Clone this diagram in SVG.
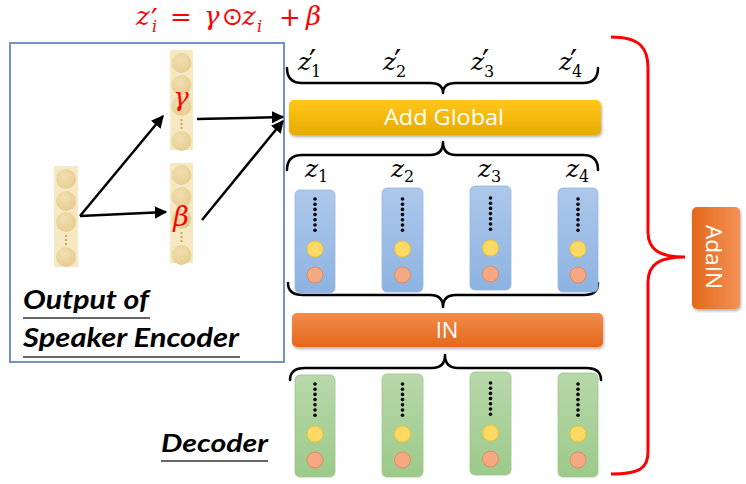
<svg xmlns="http://www.w3.org/2000/svg" width="746" height="484" viewBox="0 0 746 484">
<defs>
<linearGradient id="gY" x1="0" y1="0" x2="0" y2="1"><stop offset="0" stop-color="#ffc71a"/><stop offset="1" stop-color="#e8aa00"/></linearGradient>
<linearGradient id="gO" x1="0" y1="0" x2="0" y2="1"><stop offset="0" stop-color="#f28c4c"/><stop offset="1" stop-color="#e4681a"/></linearGradient>
<linearGradient id="gOh" x1="0" y1="0" x2="1" y2="0"><stop offset="0" stop-color="#e4681a"/><stop offset="1" stop-color="#f29155"/></linearGradient>
<linearGradient id="gB" x1="0" y1="0" x2="0" y2="1"><stop offset="0" stop-color="#adc8ea"/><stop offset="1" stop-color="#8db3e2"/></linearGradient>
<linearGradient id="gG" x1="0" y1="0" x2="0" y2="1"><stop offset="0" stop-color="#b8d8aa"/><stop offset="1" stop-color="#9cca8a"/></linearGradient>
<radialGradient id="gC" cx="0.4" cy="0.35" r="0.7"><stop offset="0" stop-color="#f1dfb2"/><stop offset="1" stop-color="#e6cc8e"/></radialGradient>
<filter id="sh" x="-5%" y="-20%" width="110%" height="150%"><feDropShadow dx="1" dy="2" stdDeviation="1.5" flood-color="#000" flood-opacity="0.3"/></filter>
<marker id="ah" viewBox="0 0 10 10" refX="9" refY="5" markerWidth="5" markerHeight="5" orient="auto"><path d="M0,0 L10,5 L0,10 z" fill="#000"/></marker>
<g id="bluecol">
<circle cx="0" cy="0" r="1.8"/><circle cx="0" cy="5.2" r="1.8"/><circle cx="0" cy="10.4" r="1.8"/><circle cx="0" cy="15.6" r="1.8"/><circle cx="0" cy="20.8" r="1.8"/><circle cx="0" cy="26" r="1.8"/><circle cx="0" cy="31.2" r="1.8"/>
<circle class="yc" cx="0" cy="50" r="8"/>
<circle class="oc" cx="0" cy="76" r="8"/>
</g>
</defs>
<style>
.bc{fill:url(#gB);stroke:#95b6df;stroke-width:0.8}
.gc{fill:url(#gG);stroke:#9cc48c;stroke-width:0.8}
.yc{fill:#ffd966;stroke:#f2c22a;stroke-width:1}
.oc{fill:#f4a882;stroke:#e48b62;stroke-width:1}
.bg{fill:#f7e8c4}
.cc{fill:url(#gC)}
.bd{fill:#c99a2e}
.brace{fill:none;stroke:#000;stroke-width:2.5;stroke-linecap:round;stroke-linejoin:round}
.arr{stroke:#000;stroke-width:2.5;fill:none;marker-end:url(#ah)}
.lbl{font-family:Lato,"Open Sans",sans-serif;font-weight:bold;font-style:italic;fill:#000}
.wt{font-family:"Open Sans","Liberation Sans",sans-serif;fill:#fff}
.m{font-family:"DejaVu Serif","Liberation Serif",serif;font-style:italic}
.mr{font-family:"DejaVu Serif","Liberation Serif",serif;font-style:normal}
.pr{font-family:"DejaVu Sans",sans-serif;font-style:normal}
</style>

<g id="formula" fill="#ff0000">
<text class="m" font-size="26"><tspan x="136" y="25">z</tspan><tspan x="151" y="30" font-size="30" class="pr">′</tspan><tspan x="152" y="32" font-size="16">i</tspan><tspan x="170" y="26" font-size="26" class="mr">=</tspan><tspan x="204" y="25">γ</tspan><tspan x="222" y="25" font-size="25" class="pr">⊙</tspan><tspan x="242" y="25">z</tspan><tspan x="257" y="32" font-size="16">i</tspan><tspan x="279" y="26" font-size="26" class="mr">+</tspan><tspan x="306" y="25">β</tspan></text>
</g>

<g id="speaker-frame">
<rect x="10" y="43" width="274" height="319" fill="none" stroke="#7092c4" stroke-width="2"/>
<text x="23" y="309" font-size="26" class="lbl" textLength="126" lengthAdjust="spacingAndGlyphs">Output of</text>
<line x1="23" y1="318" x2="150" y2="318" stroke="#333" stroke-width="1.5"/>
<text x="23" y="347" font-size="26" class="lbl" textLength="216" lengthAdjust="spacingAndGlyphs">Speaker Encoder</text>
<line x1="23" y1="357" x2="240" y2="357" stroke="#333" stroke-width="1.5"/>
</g>

<g id="input-vec">
<rect x="54" y="166" width="24" height="101" class="bg"/>
<circle cx="66" cy="179" r="10" class="cc"/><circle cx="66" cy="201" r="10" class="cc"/><circle cx="66" cy="222" r="10" class="cc"/>
<circle cx="66" cy="236" r="1.1" class="bd"/><circle cx="66" cy="240" r="1.1" class="bd"/><circle cx="66" cy="244" r="1.1" class="bd"/>
<circle cx="66" cy="257" r="10" class="cc"/>
</g>

<g id="gamma-vec">
<rect x="170" y="50" width="23" height="100" class="bg"/>
<circle cx="181.5" cy="63" r="10" class="cc"/><circle cx="181.5" cy="85" r="10" class="cc"/><circle cx="181.5" cy="106" r="10" class="cc"/>
<circle cx="181.5" cy="120" r="1.1" class="bd"/><circle cx="181.5" cy="124" r="1.1" class="bd"/><circle cx="181.5" cy="128" r="1.1" class="bd"/>
<circle cx="181.5" cy="141" r="10" class="cc"/>
<text x="181" y="106" font-size="26" fill="#ff0000" class="m" text-anchor="middle">γ</text>
</g>

<g id="beta-vec">
<rect x="170" y="163" width="23" height="100" class="bg"/>
<circle cx="181.5" cy="175" r="10" class="cc"/><circle cx="181.5" cy="197" r="10" class="cc"/><circle cx="181.5" cy="219" r="10" class="cc"/>
<circle cx="181.5" cy="233" r="1.1" class="bd"/><circle cx="181.5" cy="237" r="1.1" class="bd"/><circle cx="181.5" cy="241" r="1.1" class="bd"/>
<circle cx="181.5" cy="255" r="10" class="cc"/>
<text x="181" y="226" font-size="27" fill="#ff0000" class="m" text-anchor="middle">β</text>
</g>

<g id="connectors">
<line x1="80" y1="216" x2="163" y2="116" class="arr"/>
<line x1="80" y1="216" x2="166" y2="212" class="arr"/>
<line x1="197" y1="119" x2="283" y2="117" class="arr"/>
<line x1="202" y1="220" x2="283" y2="121" class="arr"/>
</g>

<g id="braces">
<path class="brace" d="M287,68 Q287,83 302,83 L430,83 Q443,83 443,93 Q443,83 456,83 L583,83 Q598,83 598,68"/>
<path class="brace" d="M287,170 Q287,155 302,155 L430,155 Q443,155 443,142 Q443,155 456,155 L583,155 Q598,155 598,170"/>
<path class="brace" d="M288,283 Q288,295 303,295 L430,295 Q443,295 443,307 Q443,295 456,295 L584,295 Q598,295 598,283"/>
<path class="brace" d="M290,380 Q290,368 305,368 L432,368 Q445,368 445,355 Q445,368 458,368 L586,368 Q601,368 601,380"/>
<path d="M611,37 C640,37 648,48 648,68 L648,232 C648,250 660,257 685,257 C660,257 648,264 648,282 L648,452 C648,468 640,474 611,474" fill="none" stroke="#ff0000" stroke-width="3"/>
</g>

<g id="zprime-labels" fill="#000">
<text class="m" font-size="25"><tspan x="298" y="70">z</tspan><tspan x="309" y="72" font-size="32" class="pr">′</tspan><tspan x="311" y="77" font-size="16" class="mr">1</tspan></text>
<text class="m" font-size="25"><tspan x="383" y="70">z</tspan><tspan x="394" y="72" font-size="32" class="pr">′</tspan><tspan x="396" y="77" font-size="16" class="mr">2</tspan></text>
<text class="m" font-size="25"><tspan x="471" y="70">z</tspan><tspan x="482" y="72" font-size="32" class="pr">′</tspan><tspan x="484" y="77" font-size="16" class="mr">3</tspan></text>
<text class="m" font-size="25"><tspan x="559" y="70">z</tspan><tspan x="570" y="72" font-size="32" class="pr">′</tspan><tspan x="572" y="77" font-size="16" class="mr">4</tspan></text>
</g>

<g id="add-global">
<rect x="289" y="100" width="312" height="35" rx="5" fill="url(#gY)" filter="url(#sh)"/>
<text x="444" y="125" font-size="22" class="wt" text-anchor="middle" textLength="120" lengthAdjust="spacingAndGlyphs">Add Global</text>
</g>

<g id="z-labels" fill="#000">
<text class="m" font-size="25"><tspan x="305" y="177">z</tspan><tspan x="318" y="182" font-size="16" class="mr">1</tspan></text>
<text class="m" font-size="25"><tspan x="391" y="177">z</tspan><tspan x="404" y="182" font-size="16" class="mr">2</tspan></text>
<text class="m" font-size="25"><tspan x="478" y="177">z</tspan><tspan x="491" y="182" font-size="16" class="mr">3</tspan></text>
<text class="m" font-size="25"><tspan x="566" y="177">z</tspan><tspan x="579" y="182" font-size="16" class="mr">4</tspan></text>
</g>

<g id="z1-col"><rect x="295" y="190" width="40" height="103" rx="5" class="bc"/><use href="#bluecol" x="315" y="199"/></g>
<g id="z2-col"><rect x="382" y="188" width="41" height="104" rx="5" class="bc"/><use href="#bluecol" x="402.5" y="199"/></g>
<g id="z3-col"><rect x="470" y="186" width="41" height="104" rx="5" class="bc"/><use href="#bluecol" x="490.5" y="198"/></g>
<g id="z4-col"><rect x="558" y="188" width="40" height="104" rx="5" class="bc"/><use href="#bluecol" x="578" y="199"/></g>

<g id="in-bar">
<rect x="292" y="313" width="311" height="34" rx="5" fill="url(#gO)" filter="url(#sh)"/>
<text x="447" y="338" font-size="22" class="wt" text-anchor="middle">IN</text>
</g>

<g id="d1-col"><rect x="295" y="375" width="40" height="102" rx="5" class="gc"/><use href="#bluecol" x="315" y="384"/></g>
<g id="d2-col"><rect x="382" y="374" width="41" height="103" rx="5" class="gc"/><use href="#bluecol" x="402.5" y="384"/></g>
<g id="d3-col"><rect x="470" y="372" width="41" height="103" rx="5" class="gc"/><use href="#bluecol" x="490.5" y="383"/></g>
<g id="d4-col"><rect x="558" y="373" width="40" height="104" rx="5" class="gc"/><use href="#bluecol" x="578" y="384"/></g>

<g id="decoder-label">
<text x="161" y="452" font-size="25" class="lbl" textLength="107" lengthAdjust="spacingAndGlyphs">Decoder</text>
<line x1="161" y1="461" x2="268" y2="461" stroke="#333" stroke-width="1.5"/>
</g>

<g id="adain">
<rect x="692" y="207" width="48" height="102" rx="5" fill="url(#gOh)" filter="url(#sh)"/>
<text x="0" y="0" font-size="22" class="wt" text-anchor="middle" textLength="64" lengthAdjust="spacingAndGlyphs" transform="translate(706,257) rotate(90)">AdaIN</text>
</g>
</svg>
